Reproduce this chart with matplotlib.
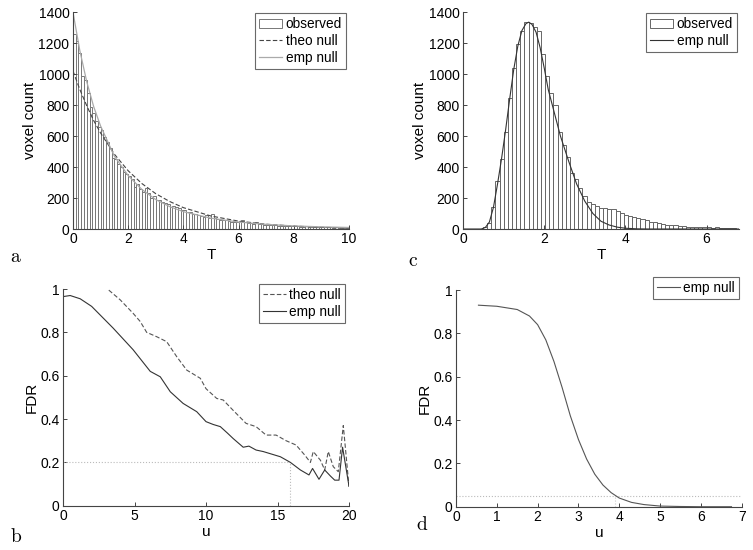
import numpy as np
import matplotlib
matplotlib.use("Agg")
import matplotlib.pyplot as plt

plt.rcParams['font.family'] = ['Liberation Sans', 'DejaVu Sans']
plt.rcParams['mathtext.fontset'] = 'cm'

# panel a: histogram of T (bins of 0.1 from 0 to 10)
a_bin_start = 0.0
a_bin_width = 0.1
a_counts = [1260, 1210, 1135, 985, 960, 880, 790, 750, 700, 660,
            640, 595, 560, 525, 460, 450, 420, 400, 370, 355,
            340, 320, 270, 290, 260, 240, 262, 230, 200, 215,
            190, 185, 175, 170, 160, 145, 150, 140, 135, 120,
            125, 110, 110, 100, 95, 90, 85, 80, 90, 70,
            100, 72, 65, 60, 58, 55, 52, 48, 46, 45,
            50, 58, 45, 40, 38, 35, 48, 33, 30, 28,
            27, 25, 26, 24, 22, 21, 20, 22, 19, 18,
            20, 17, 16, 15, 17, 14, 13, 15, 12, 12,
            11, 12, 10, 10, 9, 10, 8, 8, 7, 8]
a_t = [0, 0.25, 0.5, 0.75, 1, 1.5, 2, 2.5, 3, 3.5, 4, 5, 6, 7, 8, 9, 10]
a_emp = [1400, 1150, 950, 790, 665, 470, 345, 255, 190, 145, 112, 70, 45, 30, 20, 14, 10]
a_theo = [1020, 900, 795, 700, 620, 483, 376, 293, 228, 178, 138, 84, 51, 31, 19, 11, 7]

# panel c: histogram of T
c_bin_start = 0.392
c_bin_width = 0.102
c_counts = [3, 15, 40, 145, 310, 452, 624, 843, 1041, 1191,
            1277, 1333, 1327, 1305, 1277, 1127, 989, 875, 800, 624,
            540, 467, 360, 320, 262, 213, 176, 161, 150, 138, 133,
            131, 126, 118, 104, 92, 82, 80, 68, 62, 55,
            47, 43, 36, 30, 25, 26, 23, 19, 17, 15,
            14, 12, 11, 10, 10, 9, 10, 7, 7, 5, 4, 3]
c_t = [0, 0.45, 0.55, 0.65, 0.75, 0.85, 0.95, 1.05, 1.15, 1.25, 1.35, 1.45, 1.55,
       1.62, 1.7, 1.8, 1.9, 2.0, 2.1, 2.2, 2.4, 2.6, 2.8, 3.0, 3.2, 3.4, 3.6, 3.8,
       4.0, 4.3, 4.6, 6.8]
c_emp = [0, 0, 10, 45, 140, 290, 455, 640, 840, 1030, 1180, 1280, 1325,
         1335, 1320, 1270, 1170, 1040, 900, 800, 600, 440, 290, 180, 100, 50, 26, 12,
         5, 1, 0, 0]

# panel b: FDR vs u
b_emp_u = [0, 0.5, 1.2, 2.0, 2.6, 3.5, 4.2, 4.9, 5.5, 6.1, 6.8, 7.5, 8.4, 9.35, 10.0,
           10.5, 11.0, 11.5, 11.9, 12.6, 13.0, 13.5, 14.0, 14.5, 15.2, 15.9, 16.6,
           17.2, 17.45, 17.9, 18.3, 18.7, 19.0, 19.3, 19.55, 20.0]
b_emp_fdr = [0.965, 0.97, 0.955, 0.92, 0.88, 0.82, 0.77, 0.72, 0.67, 0.62, 0.595, 0.526,
             0.472, 0.434, 0.388, 0.375, 0.365, 0.335, 0.31, 0.27, 0.275, 0.257, 0.25,
             0.24, 0.226, 0.2, 0.165, 0.142, 0.172, 0.122, 0.165, 0.137, 0.118, 0.118,
             0.27, 0.09]
b_theo_u = [3.2, 4.0, 4.9, 5.4, 5.85, 6.55, 7.25, 7.95, 8.65, 9.6, 10.0, 10.75, 11.2,
            11.9, 12.8, 13.5, 14.2, 14.9, 15.6, 16.3, 16.9, 17.3, 17.5, 18.0, 18.3,
            18.55, 18.9, 19.25, 19.6, 20.0]
b_theo_fdr = [0.995, 0.95, 0.888, 0.85, 0.80, 0.78, 0.757, 0.688, 0.626, 0.588, 0.54,
              0.495, 0.488, 0.44, 0.38, 0.365, 0.326, 0.326, 0.30, 0.28, 0.234, 0.2,
              0.25, 0.21, 0.165, 0.25, 0.18, 0.157, 0.37, 0.088]
b_level = 0.2
b_cut = 15.9

# panel d: FDR vs u
d_u = [0.55, 1.0, 1.5, 1.8, 2.0, 2.2, 2.4, 2.6, 2.8, 3.0, 3.2, 3.4, 3.6, 3.8, 4.0,
       4.3, 4.6, 5.0, 5.5, 6.0, 6.75]
d_fdr = [0.93, 0.925, 0.91, 0.88, 0.84, 0.77, 0.67, 0.55, 0.42, 0.31, 0.22, 0.15, 0.10,
         0.065, 0.04, 0.02, 0.01, 0.003, 0.001, 0.0, 0.0]
d_level = 0.05
d_cut = 3.9

fs = 10
lab_fs = 11
leg_fs = 9.8
edge_col = '#444444'


def style_axes(ax):
    for s in ['top', 'right']:
        ax.spines[s].set_visible(False)
    for s in ['left', 'bottom']:
        ax.spines[s].set_color(edge_col)
        ax.spines[s].set_linewidth(0.8)
    ax.tick_params(direction='in', length=3, width=0.7, colors=edge_col,
                   labelcolor='black', labelsize=fs, pad=2.5)


def make_legend(ax, handles, anchor):
    leg = ax.legend(handles=handles, loc='upper right', bbox_to_anchor=anchor,
                    fontsize=leg_fs, frameon=True, fancybox=False, borderaxespad=0,
                    handlelength=1.7, handletextpad=0.25, labelspacing=0.2,
                    borderpad=0.3)
    leg.get_frame().set_edgecolor(edge_col)
    leg.get_frame().set_linewidth(0.8)
    return leg


fig = plt.figure(figsize=(7.53, 5.5), dpi=100)

# ---- a
ax_a = fig.add_axes([0.0969, 0.5836, 0.3665, 0.3945])
a_edges = a_bin_start + a_bin_width * np.arange(len(a_counts))
h_obs = ax_a.bar(a_edges, a_counts, width=a_bin_width, align='edge', facecolor='white',
                 edgecolor='#777777', linewidth=0.7, label='observed')
h_theo, = ax_a.plot(a_t, a_theo, color='#444444', lw=0.8, dashes=(4, 2), label='theo null')
h_emp, = ax_a.plot(a_t, a_emp, color='#aaaaaa', lw=0.9, label='emp null')
ax_a.set_xlim(0, 10)
ax_a.set_ylim(0, 1400)
ax_a.set_xticks([0, 2, 4, 6, 8, 10])
ax_a.set_yticks(range(0, 1401, 200))
ax_a.set_xlabel('T', fontsize=lab_fs, labelpad=1)
ax_a.set_ylabel('voxel count', fontsize=lab_fs, labelpad=1)
style_axes(ax_a)
make_legend(ax_a, [h_obs, h_theo, h_emp], (0.99, 0.995))

# ---- c
ax_c = fig.add_axes([0.6149, 0.5836, 0.3665, 0.3945])
c_edges = c_bin_start + c_bin_width * np.arange(len(c_counts))
h_obs = ax_c.bar(c_edges, c_counts, width=c_bin_width, align='edge', facecolor='white',
                 edgecolor='#666666', linewidth=0.7, label='observed')
h_emp, = ax_c.plot(c_t, c_emp, color='#333333', lw=0.8, label='emp null')
ax_c.set_xlim(0, 6.8)
ax_c.set_ylim(0, 1400)
ax_c.set_xticks([0, 2, 4, 6])
ax_c.set_yticks(range(0, 1401, 200))
ax_c.set_xlabel('T', fontsize=lab_fs, labelpad=1)
ax_c.set_ylabel('voxel count', fontsize=lab_fs, labelpad=1)
style_axes(ax_c)
make_legend(ax_c, [h_obs, h_emp], (0.993, 0.995))

# ---- b
ax_b = fig.add_axes([0.0837, 0.0805, 0.3798, 0.394])
ax_b.plot([0, b_cut], [b_level, b_level], color='#bbbbbb', lw=0.8, ls=':')
ax_b.plot([b_cut, b_cut], [0, b_level], color='#bbbbbb', lw=0.8, ls=':')
h_theo, = ax_b.plot(b_theo_u, b_theo_fdr, color='#555555', lw=0.8, dashes=(4, 2),
                    label='theo null')
h_emp, = ax_b.plot(b_emp_u, b_emp_fdr, color='#333333', lw=0.8, label='emp null')
ax_b.set_xlim(0, 20)
ax_b.set_ylim(0, 1)
ax_b.set_xticks([0, 5, 10, 15, 20])
ax_b.set_yticks([0, 0.2, 0.4, 0.6, 0.8, 1])
ax_b.set_yticklabels(['0', '0.2', '0.4', '0.6', '0.8', '1'])
ax_b.set_xlabel('u', fontsize=lab_fs, labelpad=1)
ax_b.set_ylabel('FDR', fontsize=lab_fs, labelpad=1)
style_axes(ax_b)
make_legend(ax_b, [h_theo, h_emp], (0.986, 1.023))

# ---- d
ax_d = fig.add_axes([0.6056, 0.0787, 0.3794, 0.394])
ax_d.plot([0, 7], [d_level, d_level], color='#bbbbbb', lw=0.8, ls=':')
ax_d.plot([d_cut, d_cut], [0, d_level], color='#cccccc', lw=0.8, ls=':')
h_emp, = ax_d.plot(d_u, d_fdr, color='#555555', lw=0.8, label='emp null')
ax_d.set_xlim(0, 7)
ax_d.set_ylim(0, 1)
ax_d.set_xticks(range(0, 8))
ax_d.set_yticks([0, 0.2, 0.4, 0.6, 0.8, 1])
ax_d.set_yticklabels(['0', '0.2', '0.4', '0.6', '0.8', '1'])
ax_d.set_xlabel('u', fontsize=lab_fs, labelpad=1)
ax_d.set_ylabel('FDR', fontsize=lab_fs, labelpad=1)
style_axes(ax_d)
make_legend(ax_d, [h_emp], (0.99, 1.06))

# panel letters
for lab, x, y in [('a', 10, 257), ('c', 408, 262), ('b', 10, 537), ('d', 416, 525)]:
    fig.text(x / 753, 1 - y / 550, r'$\mathrm{%s}$' % lab, fontsize=14,
             ha='left', va='center')

fig.savefig('out.png', dpi=100)
